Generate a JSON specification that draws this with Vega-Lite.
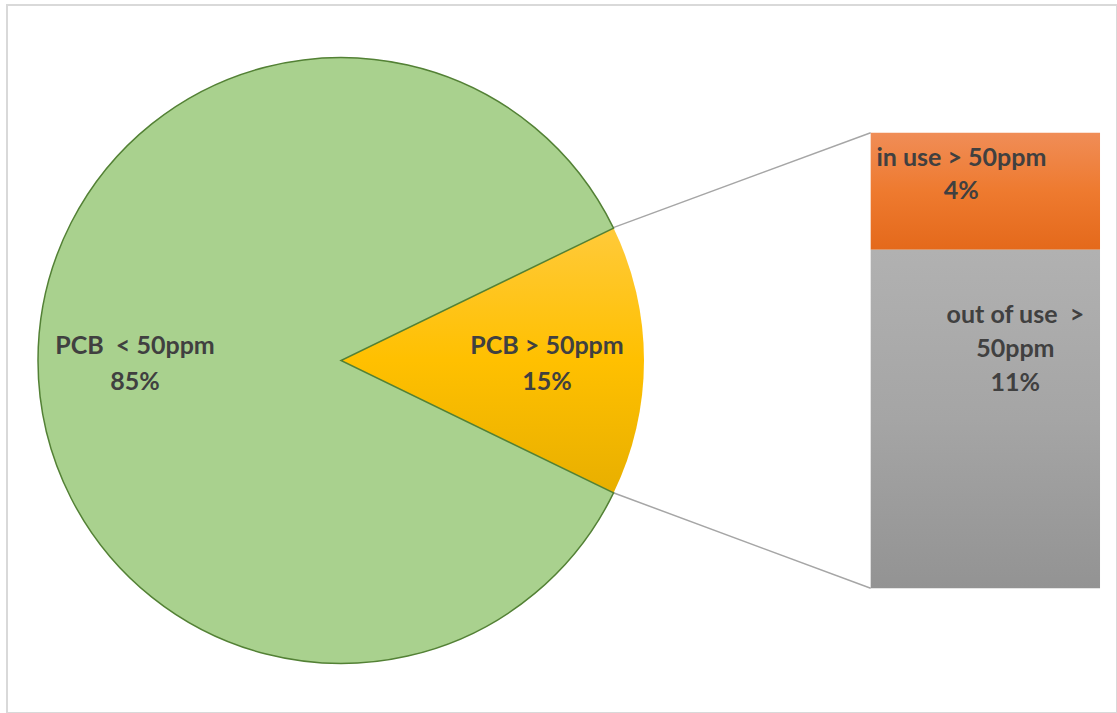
{
  "$schema": "https://vega.github.io/schema/vega-lite/v6.json",
  "width": 1110,
  "height": 708,
  "autosize": {"type": "none"},
  "padding": {"left": 7, "top": 5, "right": 0, "bottom": 0},
  "background": "white",
  "config": {"view": {"stroke": "#D9D9D9", "strokeWidth": 2}},
  "datasets": {
    "pie": [
      {"slice": "PCB > 50ppm", "value": 14.4, "order": 1, "label": "PCB > 50ppm\n15%"},
      {"slice": "PCB < 50ppm", "value": 85.6, "order": 2, "label": "PCB\u00a0 < 50ppm\n85%"}
    ],
    "bar": [
      {"segment": "out of use > 50ppm", "value": 10.7, "order": 1, "label": "out of use\u00a0 >\n50ppm\n11%"},
      {"segment": "in use > 50ppm", "value": 3.7, "order": 2, "label": "in use > 50ppm\n4%"}
    ],
    "links": [
      {"edge": "top", "from": 11.4, "to": 14.4},
      {"edge": "bottom", "from": 3.02, "to": 0}
    ]
  },
  "layer": [
    {
      "data": {"name": "links"},
      "mark": {"type": "rule", "color": "#A6A6A6", "strokeWidth": 1.5},
      "encoding": {
        "x": {"datum": 54.62, "type": "quantitative", "scale": {"domain": [0, 100], "nice": false, "zero": false}, "axis": null},
        "x2": {"datum": 77.81},
        "y": {"field": "from", "type": "quantitative", "scale": {"domain": [-3.941, 18.436], "nice": false, "zero": false}, "axis": null},
        "y2": {"field": "to"}
      }
    },
    {
      "data": {"name": "pie"},
      "transform": [
        {"stack": "value", "groupby": [], "sort": [{"field": "order"}], "as": ["v0", "v1"]},
        {"filter": "datum.order == 1"}
      ],
      "mark": {
        "type": "arc",
        "outerRadius": 303,
        "fill": {"gradient": "linear", "x1": 0, "y1": 0, "x2": 0, "y2": 1,
          "stops": [{"offset": 0, "color": "#FFCA3A"}, {"offset": 0.5, "color": "#FFC000"}, {"offset": 1, "color": "#E8AF00"}]}
      },
      "encoding": {
        "theta": {"field": "v0", "type": "quantitative", "scale": {"domain": [0, 100], "range": [1.1184, 7.4016]}},
        "theta2": {"field": "v1"},
        "x": {"datum": 30.09, "type": "quantitative", "scale": {"domain": [0, 100], "nice": false, "zero": false}, "axis": null},
        "y": {"datum": 7.2, "type": "quantitative", "scale": {"domain": [-3.941, 18.436], "nice": false, "zero": false}, "axis": null}
      }
    },
    {
      "data": {"name": "pie"},
      "transform": [
        {"stack": "value", "groupby": [], "sort": [{"field": "order"}], "as": ["v0", "v1"]},
        {"filter": "datum.order == 2"}
      ],
      "mark": {"type": "arc", "outerRadius": 303, "fill": "#A9D18E", "stroke": "#538135", "strokeWidth": 1.5},
      "encoding": {
        "theta": {"field": "v0", "type": "quantitative", "scale": {"domain": [0, 100], "range": [1.1184, 7.4016]}},
        "theta2": {"field": "v1"},
        "x": {"datum": 30.09, "type": "quantitative", "scale": {"domain": [0, 100], "nice": false, "zero": false}, "axis": null},
        "y": {"datum": 7.2, "type": "quantitative", "scale": {"domain": [-3.941, 18.436], "nice": false, "zero": false}, "axis": null}
      }
    },
    {
      "data": {"name": "pie"},
      "mark": {"type": "text", "radius": 206, "dy": -15, "font": "Lato", "fontWeight": "bold", "fontSize": 25, "lineHeight": 36, "lineBreak": "\n", "color": "#404040", "align": "center", "baseline": "middle"},
      "encoding": {
        "theta": {"field": "value", "type": "quantitative", "stack": true, "scale": {"domain": [0, 100], "range": [1.1184, 7.4016]}},
        "order": {"field": "order", "type": "quantitative"},
        "x": {"datum": 30.09, "type": "quantitative", "scale": {"domain": [0, 100], "nice": false, "zero": false}, "axis": null},
        "y": {"datum": 7.2, "type": "quantitative", "scale": {"domain": [-3.941, 18.436], "nice": false, "zero": false}, "axis": null},
        "text": {"field": "label", "type": "nominal"}
      }
    },
    {
      "data": {"name": "bar"},
      "transform": [
        {"stack": "value", "groupby": [], "sort": [{"field": "order"}], "as": ["v0", "v1"]},
        {"filter": "datum.order == 2"}
      ],
      "mark": {
        "type": "rect",
        "fill": {"gradient": "linear", "x1": 0, "y1": 0, "x2": 0, "y2": 1,
          "stops": [{"offset": 0, "color": "#F08D57"}, {"offset": 0.5, "color": "#EE7A2F"}, {"offset": 1, "color": "#E4691B"}]}
      },
      "encoding": {
        "x": {"datum": 77.81, "type": "quantitative", "scale": {"domain": [0, 100], "nice": false, "zero": false}, "axis": null},
        "x2": {"datum": 98.47},
        "y": {"field": "v0", "type": "quantitative", "scale": {"domain": [-3.941, 18.436], "nice": false, "zero": false}, "axis": null},
        "y2": {"field": "v1"}
      }
    },
    {
      "data": {"name": "bar"},
      "transform": [
        {"stack": "value", "groupby": [], "sort": [{"field": "order"}], "as": ["v0", "v1"]},
        {"filter": "datum.order == 1"}
      ],
      "mark": {
        "type": "rect",
        "fill": {"gradient": "linear", "x1": 0, "y1": 0, "x2": 0, "y2": 1,
          "stops": [{"offset": 0, "color": "#B1B1B1"}, {"offset": 0.5, "color": "#A5A5A5"}, {"offset": 1, "color": "#939393"}]}
      },
      "encoding": {
        "x": {"datum": 77.81, "type": "quantitative", "scale": {"domain": [0, 100], "nice": false, "zero": false}, "axis": null},
        "x2": {"datum": 98.47},
        "y": {"field": "v0", "type": "quantitative", "scale": {"domain": [-3.941, 18.436], "nice": false, "zero": false}, "axis": null},
        "y2": {"field": "v1"}
      }
    },
    {
      "data": {"name": "bar"},
      "transform": [
        {"stack": "value", "groupby": [], "sort": [{"field": "order"}], "as": ["v0", "v1"]},
        {"filter": "datum.order == 2"}
      ],
      "mark": {"type": "text", "dx": -24, "dy": 25, "font": "Lato", "fontWeight": "bold", "fontSize": 25, "lineHeight": 33, "lineBreak": "\n", "color": "#404040", "align": "center", "baseline": "middle"},
      "encoding": {
        "x": {"datum": 88.14, "type": "quantitative", "scale": {"domain": [0, 100], "nice": false, "zero": false}, "axis": null},
        "y": {"field": "v1", "type": "quantitative", "scale": {"domain": [-3.941, 18.436], "nice": false, "zero": false}, "axis": null},
        "text": {"field": "label", "type": "nominal"}
      }
    },
    {
      "data": {"name": "bar"},
      "transform": [
        {"stack": "value", "groupby": [], "sort": [{"field": "order"}], "as": ["v0", "v1"]},
        {"filter": "datum.order == 1"}
      ],
      "mark": {"type": "text", "dx": 30, "dy": 65, "font": "Lato", "fontWeight": "bold", "fontSize": 25, "lineHeight": 34, "lineBreak": "\n", "color": "#404040", "align": "center", "baseline": "middle"},
      "encoding": {
        "x": {"datum": 88.14, "type": "quantitative", "scale": {"domain": [0, 100], "nice": false, "zero": false}, "axis": null},
        "y": {"field": "v1", "type": "quantitative", "scale": {"domain": [-3.941, 18.436], "nice": false, "zero": false}, "axis": null},
        "text": {"field": "label", "type": "nominal"}
      }
    }
  ]
}
